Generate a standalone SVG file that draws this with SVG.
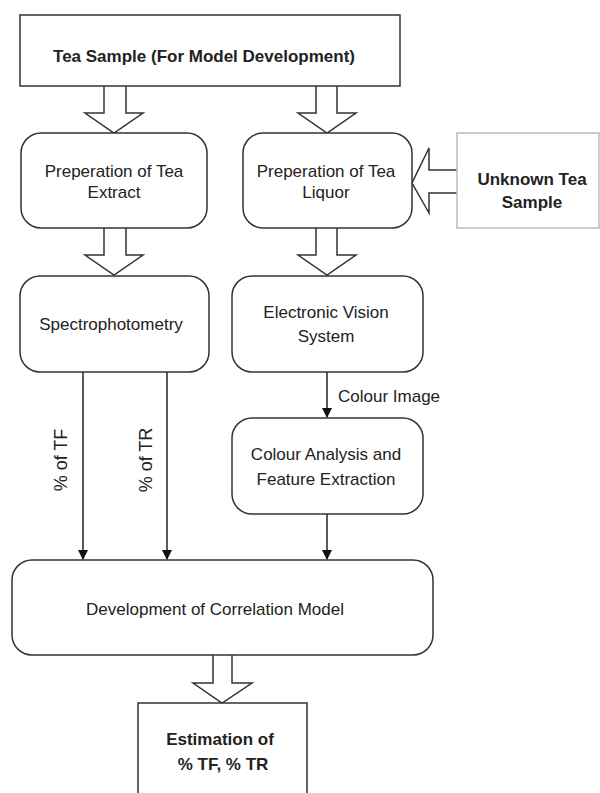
<svg xmlns="http://www.w3.org/2000/svg" width="600" height="793" viewBox="0 0 600 793">
<defs>
<style>
.box{fill:#fff;stroke:#333;stroke-width:1.5}
.lbox{fill:#fff;stroke:#bbb;stroke-width:1.5}
.t{font-family:"Liberation Sans",Arial,sans-serif;font-size:17px;fill:#222;text-anchor:middle}
.b{font-weight:bold}
.hollow{fill:#fff;stroke:#333;stroke-width:1.5;stroke-linejoin:miter}
.line{stroke:#222;stroke-width:1.5;fill:none}
</style>
<marker id="ah" markerWidth="10" markerHeight="10" refX="9" refY="5" orient="auto" markerUnits="userSpaceOnUse">
<path d="M0,0 L10,5 L0,10 Z" fill="#111"/>
</marker>
</defs>
<rect width="600" height="793" fill="#fff"/>

<g id="connectors">
<path class="hollow" d="M104,86 L104,113 L85,113 L114,133 L143,113 L126,113 L126,86"/>
<path class="hollow" d="M316,86 L316,113 L298,113 L327,133 L356,113 L337,113 L337,86"/>
<path class="hollow" d="M104,228 L104,255 L85,255 L114,275 L143,255 L126,255 L126,228"/>
<path class="hollow" d="M316,228 L316,255 L298,255 L327,275 L356,255 L337,255 L337,228"/>
<path class="hollow" d="M457,170 L429,170 L429,148 L412,183 L429,213 L429,193 L457,193"/>
<path class="hollow" d="M213,655 L213,683 L193,683 L222,703 L252,683 L232,683 L232,655"/>
<line class="line" x1="83" y1="372" x2="83" y2="559" marker-end="url(#ah)"/>
<line class="line" x1="167" y1="372" x2="167" y2="559" marker-end="url(#ah)"/>
<line class="line" x1="327" y1="372" x2="327" y2="417" marker-end="url(#ah)"/>
<line class="line" x1="327" y1="514" x2="327" y2="559" marker-end="url(#ah)"/>
<text class="t" x="338" y="402" style="text-anchor:start">Colour Image</text>
<text class="t" transform="translate(67,460) rotate(-90)" style="font-size:18px">% of TF</text>
<text class="t" transform="translate(152,460) rotate(-90)" style="font-size:18px">% of TR</text>
</g>

<g id="tea-sample">
<rect class="box" x="20" y="15" width="380" height="71"/>
<text class="t b" x="204" y="62">Tea Sample (For Model Development)</text>
</g>

<g id="prep-extract">
<rect class="box" x="21" y="133" width="186" height="95" rx="20"/>
<text class="t" x="114" y="177">Preperation of Tea</text>
<text class="t" x="114" y="198">Extract</text>
</g>

<g id="prep-liquor">
<rect class="box" x="243" y="133" width="169" height="95" rx="20"/>
<text class="t" x="326" y="177">Preperation of Tea</text>
<text class="t" x="326" y="198">Liquor</text>
</g>

<g id="unknown-sample">
<rect class="lbox" x="457" y="133" width="142" height="95"/>
<text class="t b" x="532" y="185">Unknown Tea</text>
<text class="t b" x="532" y="208">Sample</text>
</g>

<g id="spectro">
<rect class="box" x="20" y="276" width="189" height="96" rx="20"/>
<text class="t" x="111" y="330">Spectrophotometry</text>
</g>

<g id="evs">
<rect class="box" x="232" y="276" width="191" height="96" rx="20"/>
<text class="t" x="326" y="318">Electronic Vision</text>
<text class="t" x="326" y="342">System</text>
</g>

<g id="colour-analysis">
<rect class="box" x="232" y="418" width="191" height="96" rx="20"/>
<text class="t" x="326" y="460">Colour Analysis and</text>
<text class="t" x="326" y="485">Feature Extraction</text>
</g>

<g id="correlation">
<rect class="box" x="12" y="560" width="421" height="95" rx="20"/>
<text class="t" x="215" y="615">Development of Correlation Model</text>
</g>

<g id="estimation">
<rect class="box" x="138" y="703" width="169" height="100"/>
<text class="t b" x="220" y="745">Estimation of</text>
<text class="t b" x="223" y="770">% TF, % TR</text>
</g>
</svg>
